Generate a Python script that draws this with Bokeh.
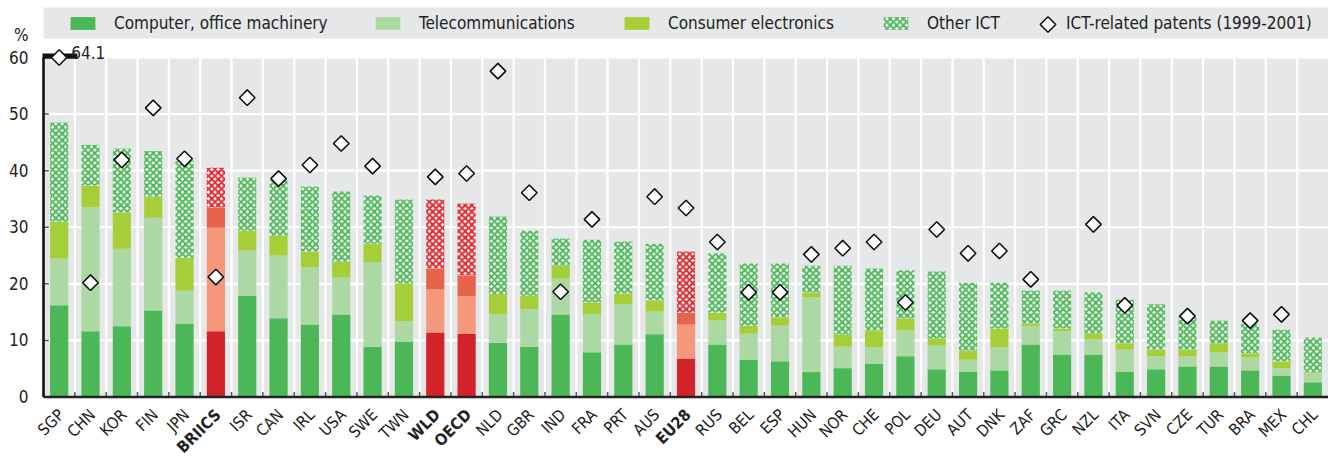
import numpy as np
from bokeh.plotting import figure
from bokeh.models import (ColumnDataSource, Range1d, FixedTicker, Legend, LegendItem,
                          LinearAxis)
from bokeh.core.properties import value
from bokeh.embed import file_html
from bokeh.resources import INLINE

# ---------------- data ----------------
countries = ["SGP", "CHN", "KOR", "FIN", "JPN", "BRIICS", "ISR", "CAN", "IRL", "USA",
             "SWE", "TWN", "WLD", "OECD", "NLD", "GBR", "IND", "FRA", "PRT", "AUS",
             "EU28", "RUS", "BEL", "ESP", "HUN", "NOR", "CHE", "POL", "DEU", "AUT",
             "DNK", "ZAF", "GRC", "NZL", "ITA", "SVN", "CZE", "TUR", "BRA", "MEX", "CHL"]
aggregates = ["BRIICS", "WLD", "OECD", "EU28"]

computer = [16.2, 11.6, 12.5, 15.3, 13.0, 11.6, 17.9, 13.9, 12.8, 14.6,
            8.9, 9.8, 11.4, 11.2, 9.6, 8.9, 14.6, 7.9, 9.3, 11.1,
            6.8, 9.3, 6.6, 6.3, 4.4, 5.1, 5.9, 7.2, 4.9, 4.5,
            4.7, 9.3, 7.5, 7.5, 4.5, 4.9, 5.4, 5.4, 4.7, 3.8, 2.6]
telecom = [8.3, 22.0, 13.7, 16.4, 5.8, 18.3, 8.0, 11.1, 10.1, 6.5,
           14.9, 3.6, 7.6, 6.6, 5.0, 6.6, 6.3, 6.7, 7.1, 4.0,
           6.0, 4.2, 4.6, 6.3, 13.2, 3.8, 2.9, 4.6, 4.2, 2.1,
           4.1, 3.2, 4.1, 2.7, 3.9, 2.3, 1.8, 2.5, 2.3, 1.3, 1.6]
consumer = [6.5, 3.8, 6.4, 3.7, 5.8, 3.6, 3.5, 3.5, 2.8, 2.8,
            3.3, 6.7, 3.7, 3.7, 3.6, 2.4, 2.3, 2.1, 1.9, 2.0,
            2.1, 1.4, 1.4, 1.5, 0.9, 2.2, 3.0, 2.1, 1.3, 1.6,
            3.3, 0.5, 0.5, 1.0, 1.1, 1.2, 1.2, 1.6, 0.7, 1.2, 0.2]
other = [17.5, 7.2, 11.3, 8.1, 17.2, 7.0, 9.4, 9.7, 11.5, 12.4,
         8.5, 14.8, 12.2, 12.7, 13.7, 11.5, 4.8, 11.1, 9.2, 10.0,
         10.8, 10.5, 11.0, 9.5, 4.7, 12.1, 10.9, 8.5, 11.8, 12.0,
         8.1, 5.8, 6.7, 7.3, 7.7, 8.0, 6.0, 4.0, 5.2, 5.6, 6.1]
patents = [64.1, 20.2, 41.9, 51.1, 42.1, 21.2, 52.9, 38.6, 41.0, 44.8,
           40.8, None, 38.9, 39.5, 57.6, 36.1, 18.6, 31.4, None, 35.4,
           33.4, 27.4, 18.5, 18.5, 25.2, 26.3, 27.4, 16.7, 29.6, 25.4,
           25.8, 20.8, None, 30.5, 16.2, None, 14.3, None, 13.5, 14.6, None]
y_ticks = [0, 10, 20, 30, 40, 50, 60]
y_cap = 60
y_unit_label = "%"
series_labels = ["Computer, office machinery", "Telecommunications",
                 "Consumer electronics", "Other ICT", "ICT-related patents (1999-2001)"]

# ---------------- styling / layout ----------------
FONT = "Liberation Sans Narrow, DejaVu Sans Condensed, Arial Narrow, sans-serif"
FS = "17px"
FS_CAT = "16px"
GREENS = ["#4cb757", "#acd8a3", "#a6ce39", "#4cb757"]
REDS = ["#d2232a", "#f4977a", "#e5644b", "#e0262e"]
BG = "#e6e7e8"
TXT = "#222222"
W, H = 1328, 457
n = len(countries)
left_px = 43                    # pixel column of the left axis
SX = (W - left_px) / n          # pixels per category slot
PX = 5.658                      # pixels per % point
y0_px = 396.5                   # pixel row of the zero line
x_lo, x_hi = -0.5 - left_px / SX, n - 0.5
y_lo, y_hi = -(H - y0_px) / PX, y0_px / PX
band_lo, band_hi = (y0_px - 38) / PX, (y0_px - 7) / PX

pos = np.arange(n)              # slot of each country, in list order
is_agg = np.array([c in aggregates for c in countries])

p = figure(width=W, height=H, x_range=Range1d(x_lo, x_hi), y_range=Range1d(y_lo, y_hi),
           output_backend="svg", toolbar_location=None,
           x_axis_location=None, y_axis_location=None, min_border=0)
p.outline_line_color = None
p.background_fill_color = "white"
p.border_fill_color = "white"
p.xgrid.visible = False
p.ygrid.visible = False

# plot background and legend band
p.quad(left=-0.5, right=n - 0.5, bottom=0, top=y_cap, fill_color=BG, line_color=None)
p.quad(left=-0.5, right=n - 0.5, bottom=band_lo, top=band_hi, fill_color=BG, line_color=None)

# grid lines
hy = y_ticks[1:]
p.segment(x0=[-0.5] * len(hy), x1=[n - 0.5] * len(hy), y0=hy, y1=hy, line_color="white", line_width=2.2)
bx = list(pos[:-1] + 0.5)
p.segment(x0=bx, x1=bx, y0=[0] * len(bx), y1=[y_cap] * len(bx), line_color="white", line_width=2.2)

# stacked bars
c1 = np.array(computer)
c2 = c1 + np.array(telecom)
c3 = c2 + np.array(consumer)
c4 = c3 + np.array(other)


def make_src(sel):
    idx = np.where(is_agg == sel)[0]
    return ColumnDataSource(dict(x=pos[idx], name=[countries[i] for i in idx],
                                 t1=c1[idx], t2=c2[idx], t3=c3[idx], t4=c4[idx]))


BW = 0.58
rend = {}
for agg, cols in [(False, GREENS), (True, REDS)]:
    src = make_src(agg)
    r1 = p.vbar(x="x", bottom=0, top="t1", width=BW, source=src, fill_color=cols[0], line_color=None)
    r2 = p.vbar(x="x", bottom="t1", top="t2", width=BW, source=src, fill_color=cols[1], line_color=None)
    r3 = p.vbar(x="x", bottom="t2", top="t3", width=BW, source=src, fill_color=cols[2], line_color=None)
    r4 = p.vbar(x="x", bottom="t3", top="t4", width=BW, source=src, fill_color="white",
                hatch_pattern="x", hatch_color=cols[3], hatch_scale=6.5, hatch_weight=2.0,
                line_color=None)
    rend[agg] = [r1, r2, r3, r4]

# bottom axis line & inner ticks, left axis line & inner ticks
p.segment(x0=bx, x1=bx, y0=[0] * len(bx), y1=[0.9] * len(bx), line_color="#555555", line_width=1.5)
p.segment(x0=[-0.5] * len(y_ticks), x1=[-0.33] * len(y_ticks), y0=y_ticks, y1=y_ticks,
          line_color="#555555", line_width=1.5)
p.segment(x0=[-0.5], x1=[n - 0.5], y0=[0], y1=[0], line_color="#222222", line_width=2.6)
p.segment(x0=[-0.5], x1=[-0.5], y0=[0], y1=[y_cap], line_color="#111111", line_width=2.6)

# break marker for values beyond the axis
over = [(i, v) for i, v in enumerate(patents) if v is not None and v > y_cap]
for i, v in over:
    p.quad(left=i - 0.53, right=i + 0.58, bottom=59.8, top=60.7, fill_color="#111111", line_color=None)

# patents diamonds
pi_ = [i for i, v in enumerate(patents) if v is not None]
pv = [min(v, y_cap) for v in patents if v is not None]
pat_src = ColumnDataSource(dict(x=pi_, y=pv, name=[countries[i] for i in pi_]))
DIA = dict(marker="square", angle=np.pi / 4, size=11, fill_color="white",
           line_color="#111111", line_width=1.6)
rp = p.scatter(x="x", y="y", source=pat_src, **DIA)

p.text(x=[i for i, v in over], y=[60.85] * len(over), text=[f"{v:.1f}" for i, v in over],
       x_offset=12, text_font=value(FONT), text_font_size=FS, text_color=TXT,
       text_align="left", text_baseline="alphabetic")

# y axis labels, fixed at the left edge of the plot area
ya = LinearAxis(fixed_location=-0.5)
ya.ticker = FixedTicker(ticks=y_ticks + [64])
ya.major_label_overrides = {64: y_unit_label}
ya.axis_line_color = None
ya.major_tick_line_color = None
ya.minor_tick_line_color = None
ya.major_tick_in = 0
ya.major_tick_out = 0
ya.major_label_standoff = 15
ya.major_label_text_font = FONT
ya.major_label_text_font_size = FS
ya.major_label_text_color = TXT
p.add_layout(ya, "left")

# category labels, rotated 45 degrees, bold for aggregates
lab_src = ColumnDataSource(dict(x=pos, y=[0] * n, t=countries,
                                st=["bold" if a else "normal" for a in is_agg]))
p.text(x="x", y="y", text="t", source=lab_src, angle=np.pi / 4, x_offset=2, y_offset=15,
       text_font=value(FONT), text_font_size=FS_CAT, text_font_style="st", text_color=TXT,
       text_align="right", text_baseline="middle")


# legends, one per item so that each sits where it should
def add_leg(label, renderer, x, y, gw=31, gh=16, standoff=16):
    lg = Legend(items=[LegendItem(label=label, renderers=[renderer])], location=(x, y),
                orientation="horizontal", glyph_width=gw, glyph_height=gh, label_height=gh,
                label_standoff=standoff, padding=0, margin=0, spacing=0,
                background_fill_alpha=0, border_line_color=None,
                label_text_font=FONT, label_text_font_size=FS, label_text_color=TXT)
    p.add_layout(lg)


leg_bottom = H - 33
leg_x = [67, 372, 621, 880]
for k in range(4):
    add_leg(series_labels[k], rend[False][k], leg_x[k], leg_bottom)

# patents key: rotated-square symbol in the band plus its label
proxy = p.scatter(x=[], y=[], marker="square", size=1, fill_alpha=0, line_alpha=0)
p.scatter(x=[x_lo + 1047.5 / SX], y=[(y0_px - 24) / PX], **DIA)
add_leg(series_labels[4], proxy, 1065, leg_bottom, gw=1, standoff=0)

open("out.html", "w").write(file_html(p, INLINE))
